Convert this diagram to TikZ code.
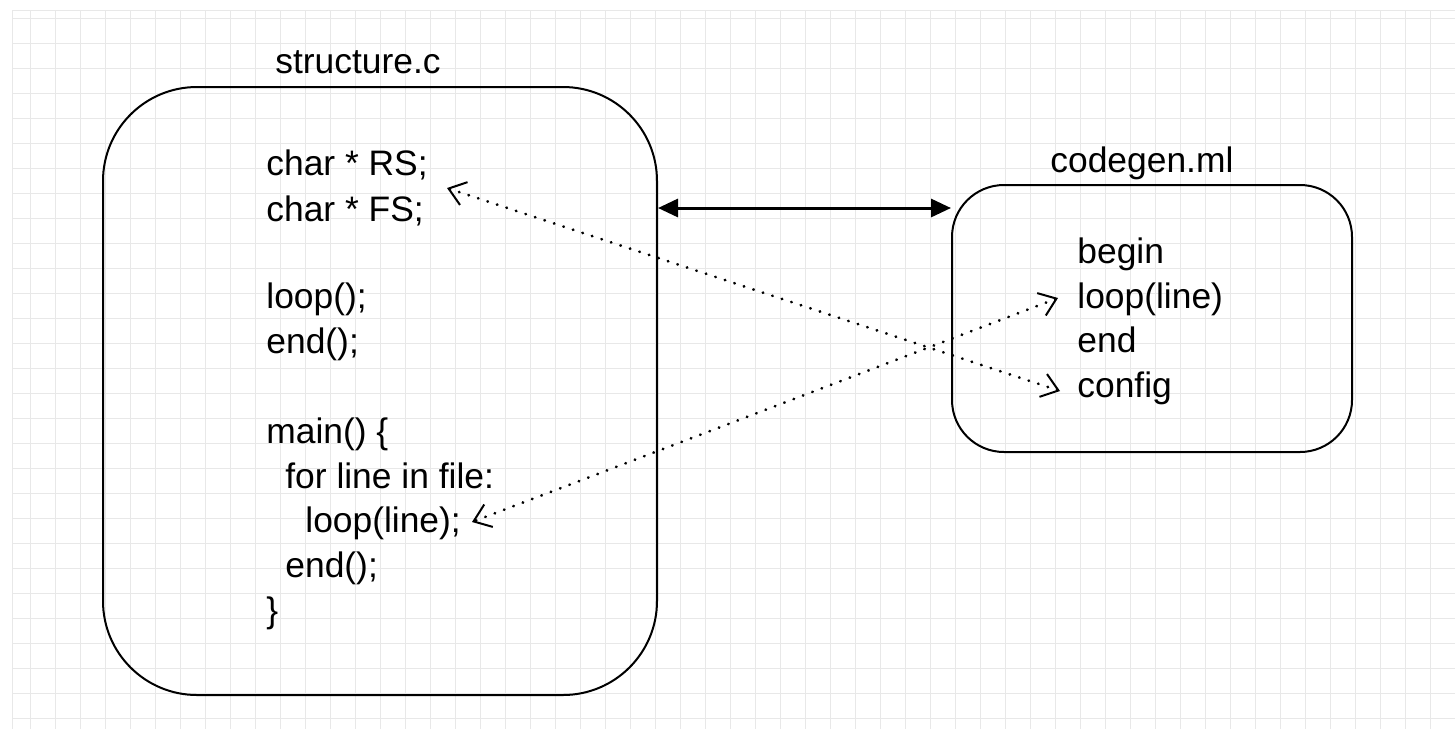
\documentclass[tikz,border=0pt]{standalone}
\usepackage{fontspec}
\setmainfont{Liberation Sans}
\usetikzlibrary{arrows.meta,calc}
\begin{document}
\begin{tikzpicture}[x=0.5pt,y=-0.5pt,
  txt/.style={anchor=base west,inner sep=0pt,font=\fontsize{17.7}{20}\selectfont},
  box/.style={draw=black,line width=1pt,rounded corners=#1},
  dotarrow/.style={line width=1.4pt,line cap=round,dash pattern=on 0.2pt off 4.8pt,
     {Straight Barb[length=8pt,width=12pt,line width=1pt]}-{Straight Barb[length=8pt,width=12pt,line width=1pt]}},
  gridline/.style={draw=black!9,line width=0.5pt}]
\useasboundingbox (0,0) rectangle (1455,729);
% grid
\foreach \x in {12,30,55,...,1455} \draw[gridline] (\x,10) -- (\x,729);
\foreach \y in {10,18,43,...,729} \draw[gridline] (12,\y) -- (1455,\y);
% boxes
\node[box=47pt,minimum width=277pt,minimum height=304pt,inner sep=0pt] (lbox) at (380,391) {};
\node[box=26pt,minimum width=200pt,minimum height=133.5pt,inner sep=0pt] (rbox) at (1152,318.5) {};
% titles
\node[txt] (ltitle) at (275,73) {structure.c};
\node[txt] (rtitle) at (1050,172) {codegen.ml};
% left code
\node[txt] (rs) at (266,175) {char * RS;};
\node[txt] (fs) at (266,221) {char * FS;};
\node[txt] (lp) at (266,308) {loop();};
\node[txt] (en) at (266,353) {end();};
\node[txt] (mn) at (266,443) {main() \{};
\node[txt] (fr) at (285,488) {for line in file:};
\node[txt] (ll) at (305,532) {loop(line);};
\node[txt] (en2) at (285,577) {end();};
\node[txt] (cb) at (266,622) {\}};
% right code
\node[txt] (bg) at (1077,263) {begin};
\node[txt] (rl) at (1077,308) {loop(line)};
\node[txt] (re) at (1077,352) {end};
\node[txt] (cf) at (1077,397) {config};
% connectors
\draw[line width=1.5pt,{Triangle[length=10pt,width=9pt]}-{Triangle[length=10pt,width=9pt]}]
  (lbox.east |- 0,208) -- (rbox.west |- 0,208);
\coordinate (a1) at (447,188);
\coordinate (a2) at (1060,391);
\coordinate (b1) at (472,522);
\coordinate (b2) at (1058,298);
\draw[dotarrow] (a2) -- (a1);
\draw[dotarrow] (b2) -- (b1);
\end{tikzpicture}
\end{document}
